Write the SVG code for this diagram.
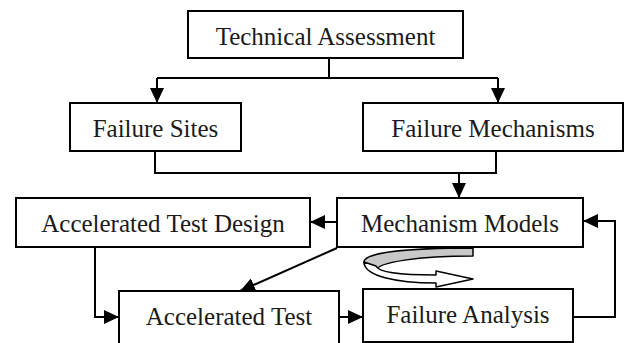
<svg xmlns="http://www.w3.org/2000/svg" width="626" height="343" viewBox="0 0 626 343">
<style>
.box{fill:#fff;stroke:#000;stroke-width:2}
.lbl{font-family:"Liberation Serif","Times New Roman",serif;font-size:25px;fill:#1a1a1a;text-anchor:middle}
.c{fill:none;stroke:#000;stroke-width:2}
.a{marker-end:url(#ah)}
</style>
<defs>
<marker id="ah" markerUnits="userSpaceOnUse" markerWidth="15" markerHeight="14" refX="15" refY="7" orient="auto" viewBox="0 0 15 14">
<path d="M0,0 L15,7 L0,14 Z" fill="#000"/>
</marker>
</defs>
<rect width="626" height="343" fill="#fff"/>
<g id="connectors">
<path class="c" d="M329,58 V78 M157,78 H498"/>
<path class="c a" d="M157,78 V103"/>
<path class="c a" d="M498,78 V103"/>
<path class="c" d="M155,151 V173 H496 V151"/>
<path class="c a" d="M459,173 V198"/>
<path class="c a" d="M337,222 H310"/>
<path class="c a" d="M95,247 V317 H119"/>
<path class="c a" d="M337,248 L240,291"/>
<path class="c a" d="M339,317 H363"/>
<path class="c a" d="M573,317 H615 V221 H583"/>
</g>
<g id="cycle-arrow" stroke="#000" stroke-width="1.5" stroke-linejoin="round">
<path d="M473,248 C405,248 364,253 364,262 C364,266 368,269 376,271 C376,262 420,256 473,256 Z" fill="#c8c8c8"/>
<path d="M364,262 C364,276 396,283 436,283 L436,287 L473,279 L436,271 L436,275 C400,275 378,272 376,266 Z" fill="#fff"/>
</g>
<g id="technical-assessment">
<rect class="box" x="188" y="11" width="275" height="47"/>
<text class="lbl" x="325.5" y="45">Technical Assessment</text>
</g>
<g id="failure-sites">
<rect class="box" x="70" y="103" width="171" height="48"/>
<text class="lbl" x="155.5" y="137">Failure Sites</text>
</g>
<g id="failure-mechanisms">
<rect class="box" x="363" y="103" width="260" height="48"/>
<text class="lbl" x="493" y="137">Failure Mechanisms</text>
</g>
<g id="accelerated-test-design">
<rect class="box" x="16" y="198" width="294" height="49"/>
<text class="lbl" x="163" y="232">Accelerated Test Design</text>
</g>
<g id="mechanism-models">
<rect class="box" x="337" y="198" width="246" height="49"/>
<text class="lbl" x="460" y="232">Mechanism Models</text>
</g>
<g id="accelerated-test">
<rect class="box" x="119" y="291" width="220" height="58"/>
<text class="lbl" x="229" y="325">Accelerated Test</text>
</g>
<g id="failure-analysis">
<rect class="box" x="363" y="289" width="210" height="53"/>
<text class="lbl" x="468" y="323">Failure Analysis</text>
</g>
</svg>
